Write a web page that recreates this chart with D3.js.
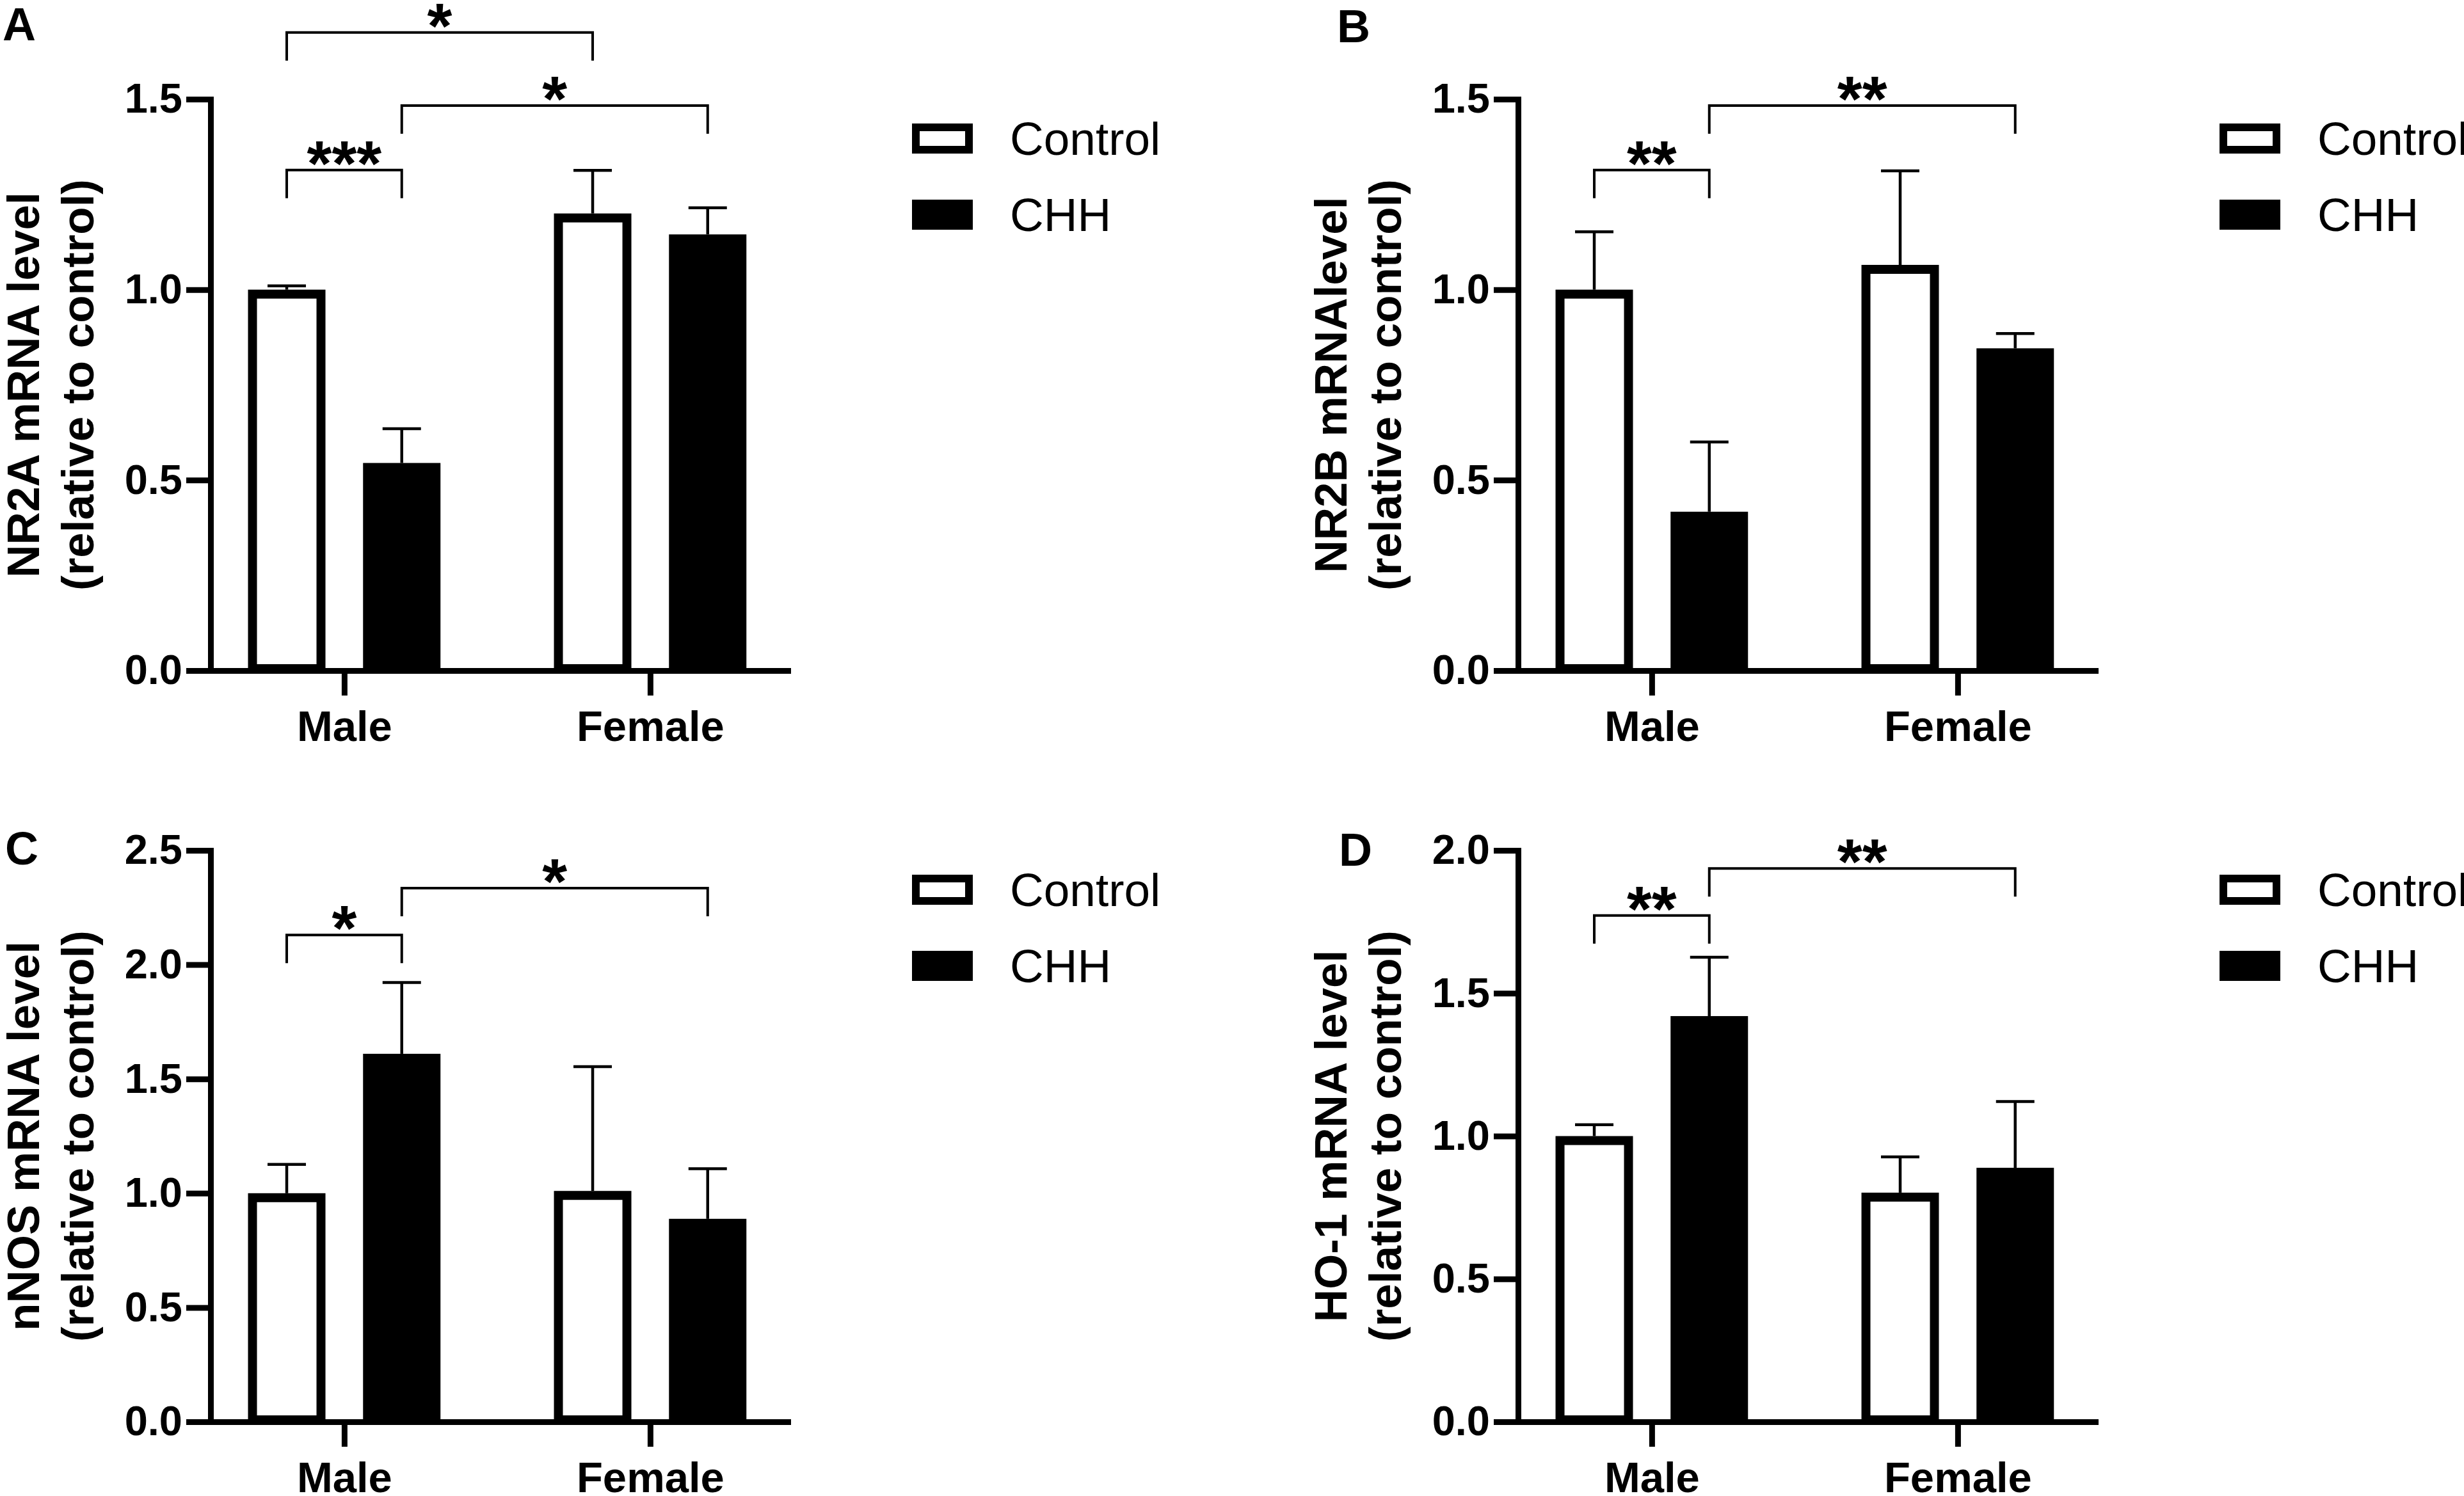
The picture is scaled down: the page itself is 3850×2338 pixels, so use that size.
<!DOCTYPE html>
<html>
<head>
<meta charset="utf-8">
<title>NR2A, NR2B, nNOS and HO-1 mRNA levels</title>
<script src="https://d3js.org/d3.v7.min.js"></script>
<style>
  body { margin: 0; background: #fff; }
  svg { display: block; }
  text { font-family: "Liberation Sans", Arial, Helvetica, sans-serif; fill: #000; }
</style>
</head>
<body>
<script>
// ---- data ----
const groups = ['Male', 'Female'];
const series = ['Control', 'CHH'];

// mean / SEM, indexed [group][series]
const nr2aMean = [[1.00, 0.545], [1.20, 1.145]];
const nr2aSem  = [[0.01, 0.09], [0.113, 0.07]];
const nr2bMean = [[1.00, 0.417], [1.065, 0.846]];
const nr2bSem  = [[0.152, 0.183], [0.247, 0.039]];
const nnosMean = [[1.00, 1.61], [1.01, 0.888]];
const nnosSem  = [[0.126, 0.312], [0.544, 0.219]];
const ho1Mean  = [[1.00, 1.42], [0.802, 0.889]];
const ho1Sem   = [[0.04, 0.206], [0.125, 0.232]];

// significance brackets: [from bar, to bar, height (data units), label]
const nr2aSig = [
  ['Male:Control', 'Female:Control', 1.675, '*'],
  ['Male:CHH', 'Female:CHH', 1.483, '*'],
  ['Male:Control', 'Male:CHH', 1.314, '***']
];
const nr2bSig = [
  ['Male:CHH', 'Female:CHH', 1.483, '**'],
  ['Male:Control', 'Male:CHH', 1.314, '**']
];
const nnosSig = [
  ['Male:Control', 'Male:CHH', 2.13, '*'],
  ['Male:CHH', 'Female:CHH', 2.335, '*']
];
const ho1Sig = [
  ['Male:Control', 'Male:CHH', 1.772, '**'],
  ['Male:CHH', 'Female:CHH', 1.937, '**']
];

const panels = [
  { letter: 'A', title: 'NR2A mRNA level', yMax: 1.5, mean: nr2aMean, sem: nr2aSem, sig: nr2aSig },
  { letter: 'B', title: 'NR2B mRNAlevel',  yMax: 1.5, mean: nr2bMean, sem: nr2bSem, sig: nr2bSig },
  { letter: 'C', title: 'nNOS mRNA level', yMax: 2.5, mean: nnosMean, sem: nnosSem, sig: nnosSig },
  { letter: 'D', title: 'HO-1 mRNA level', yMax: 2.0, mean: ho1Mean,  sem: ho1Sem,  sig: ho1Sig }
];

// ---- layout ----
const W = 3850, H = 2338;
const offsets = [[0, 0], [2043, 0], [0, 1174], [2043, 1174]];
const letterPos = [[4, 63], [46, 66], [8, 177], [49, 179]];
const axisX = 329, topY = 155, plotW = 902, plotH = 893;
const barOffset = 0.188, barW = 107, barStroke = 14, capW = 60, legH = 44;

const svg = d3.select('body').append('svg')
    .attr('width', W)
    .attr('height', H);

panels.forEach((p, pi) => {
    const panel = svg.append('g')
        .attr('transform', `translate(${offsets[pi][0]},${offsets[pi][1]})`);

    // panel letter
    panel.append('text')
        .attr('x', letterPos[pi][0])
        .attr('y', letterPos[pi][1])
        .attr('font-size', 72)
        .attr('font-weight', 'bold')
        .text(p.letter);

    // y title, two lines
    const yc = topY + plotH / 2;
    [[p.title, 61], ['(relative to control)', 146]].forEach(([t, bx]) => {
        panel.append('text')
            .attr('transform', `translate(${bx},${yc}) rotate(-90)`)
            .attr('text-anchor', 'middle')
            .attr('font-size', 71)
            .attr('font-weight', 'bold')
            .text(t);
    });

    const g = panel.append('g').attr('transform', `translate(${axisX},${topY})`);

    const x = d3.scaleLinear().domain([-0.437, 1.45]).range([0, plotW]);
    const y = d3.scaleLinear().domain([0, p.yMax]).range([plotH, 0]);

    const rows = groups.flatMap((gName, gi) => series.map((sName, si) => ({
        key: gName + ':' + sName,
        si: si,
        cx: x(gi + (si === 0 ? -barOffset : barOffset)),
        mean: p.mean[gi][si],
        sem: p.sem[gi][si]
    })));
    const cxOf = k => rows.find(r => r.key === k).cx;

    // error bars (upper only)
    const err = g.append('g').attr('stroke', '#000').attr('stroke-width', 4.5);
    err.selectAll('line.stem').data(rows).join('line')
        .attr('class', 'stem')
        .attr('x1', d => d.cx).attr('x2', d => d.cx)
        .attr('y1', d => y(d.mean)).attr('y2', d => y(d.mean + d.sem));
    err.selectAll('line.cap').data(rows).join('line')
        .attr('class', 'cap')
        .attr('x1', d => d.cx - capW / 2).attr('x2', d => d.cx + capW / 2)
        .attr('y1', d => y(d.mean + d.sem)).attr('y2', d => y(d.mean + d.sem));

    // bars: border kept inside the value line
    const half = barStroke / 2;
    g.selectAll('rect.bar').data(rows).join('rect')
        .attr('class', 'bar')
        .attr('x', d => d.cx - barW / 2)
        .attr('y', d => y(d.mean) + half)
        .attr('width', barW)
        .attr('height', d => Math.max(0, plotH - 3 - y(d.mean) - half))
        .attr('fill', d => d.si === 0 ? '#fff' : '#000')
        .attr('stroke', '#000')
        .attr('stroke-width', barStroke);

    // axes
    const yAxis = d3.axisLeft(y)
        .tickValues(d3.range(0, p.yMax + 0.01, 0.5))
        .tickFormat(d3.format('.1f'))
        .tickSize(38)
        .tickSizeOuter(0)
        .tickPadding(6);
    g.append('g').call(yAxis).call(s => {
        s.select('.domain').attr('stroke-width', 9).attr('stroke-linecap', 'square');
        s.selectAll('.tick line').attr('stroke-width', 9);
        s.selectAll('.tick text').attr('font-size', 65).attr('font-weight', 'bold');
    });

    const xAxis = d3.axisBottom(x)
        .tickValues([0, 1])
        .tickFormat(i => groups[i])
        .tickSize(39)
        .tickSizeOuter(0)
        .tickPadding(23);
    g.append('g').attr('transform', `translate(0,${plotH})`).call(xAxis).call(s => {
        s.select('.domain').attr('stroke-width', 9).attr('stroke-linecap', 'square');
        s.selectAll('.tick line').attr('stroke-width', 9);
        s.selectAll('.tick text').attr('font-size', 67).attr('font-weight', 'bold');
    });

    // significance brackets
    const sig = g.append('g');
    p.sig.forEach(([a, b, h, label]) => {
        const x1 = cxOf(a), x2 = cxOf(b), yy = y(h);
        sig.append('path')
            .attr('d', `M${x1},${yy + legH}V${yy}H${x2}V${yy + legH}`)
            .attr('fill', 'none')
            .attr('stroke', '#000')
            .attr('stroke-width', 4);
        sig.append('text')
            .attr('x', (x1 + x2) / 2)
            .attr('y', yy + 24)
            .attr('text-anchor', 'middle')
            .attr('font-size', 100)
            .attr('font-weight', 'bold')
            .text(label);
    });

    // legend
    const leg = panel.append('g').attr('transform', 'translate(1425,193)');
    series.forEach((sName, si) => {
        const ly = si * 119;
        leg.append('rect')
            .attr('x', 6).attr('y', ly + 6)
            .attr('width', 83).attr('height', 35)
            .attr('fill', si === 0 ? '#fff' : '#000')
            .attr('stroke', '#000')
            .attr('stroke-width', 12);
        leg.append('text')
            .attr('x', 153)
            .attr('y', ly + 49)
            .attr('font-size', 73)
            .text(sName);
    });
});
</script>
</body>
</html>
